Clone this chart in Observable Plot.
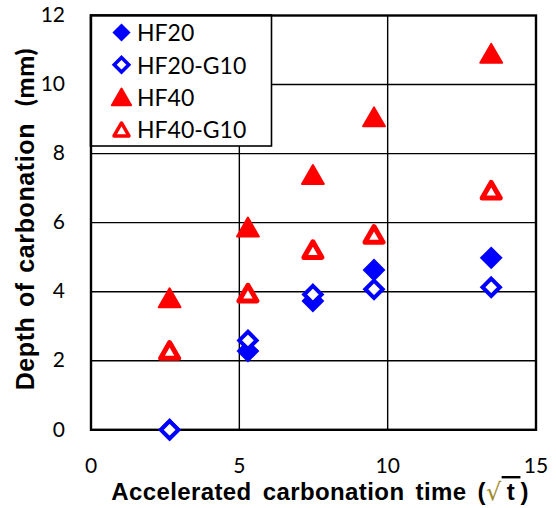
<!DOCTYPE html>
<html><head><meta charset="utf-8">
<script src="https://cdn.jsdelivr.net/npm/d3@7"></script>
<script src="https://cdn.jsdelivr.net/npm/@observablehq/plot@0.6"></script>
<style>body{margin:0;background:#fff;}</style>
</head><body><div id="chart"></div>
<script>
// sqrt of exposure days (7, 28, 56, 91, 182)
const times = [2.65, 5.29, 7.48, 9.54, 13.49];
const hf20 = [0, 2.28, 3.73, 4.63, 4.98];
const hf20g10 = [0, 2.59, 3.92, 4.07, 4.13];
const hf40 = [3.82, 5.87, 7.39, 9.06, 10.9];
const hf40g10 = [2.3, 3.96, 5.22, 5.66, 6.94];
const seriesNames = ["HF20", "HF20-G10", "HF40", "HF40-G10"];
const xTicks = [0, 5, 10, 15];
const yTicks = [0, 2, 4, 6, 8, 10, 12];
const xGrid = [5, 10];
const yGrid = [2, 4, 6, 8, 10];
const xTitle = "Accelerated carbonation time (";
const yTitle = "Depth of carbonation";
const yUnit = "  (mm)";

const rows = (vals, name) => times.map((t, i) => ({t, v: vals[i], name}));
const series = [hf20, hf20g10, hf40, hf40g10].map((v, i) => rows(v, seriesNames[i]));

const styles = [
  {symbol: "diamond2", r: 10.3, fill: "#0000ff", stroke: "none", strokeWidth: 0, dy: 0, lSym: d3.symbolDiamond2, lSize: 210},
  {symbol: "diamond2", r: 7.8, fill: "white", stroke: "#0000ff", strokeWidth: 4, dy: 0, lSym: d3.symbolDiamond2, lSize: 135},
  {symbol: "triangle", r: 8.1, fill: "#ff0000", stroke: "#ff0000", strokeWidth: 2, dy: 3, lSym: d3.symbolTriangle, lSize: 160},
  {symbol: "triangle2", r: 8.6, fill: "white", stroke: "#ff0000", strokeWidth: 5, dy: 2.6, lSym: d3.symbolTriangle2, lSize: 160}
];

function legendMark(index, scales, values, dims) {
  const g = d3.create("svg:g");
  const x0 = dims.marginLeft, y0 = dims.marginTop;
  g.append("rect").attr("x", x0).attr("y", y0).attr("width", 181).attr("height", 131)
    .attr("fill", "white").attr("stroke", "black").attr("stroke-width", 1.6);
  styles.forEach((s, i) => {
    const cy = y0 + 17.5 + i * 32.3;
    const sw = s.strokeWidth ? Math.min(s.strokeWidth, 3.5) : 0;
    g.append("path")
      .attr("transform", `translate(${x0 + 31},${cy + s.dy * 0.85})`)
      .attr("d", d3.symbol(s.lSym, s.lSize)())
      .attr("fill", s.fill).attr("stroke", s.stroke).attr("stroke-width", sw)
      .attr("stroke-linejoin", s.symbol.startsWith("triangle") ? "round" : "miter");
    g.append("text").attr("x", x0 + 46.5).attr("y", cy + 0.5).attr("dy", "0.36em")
      .attr("text-anchor", "start")
      .attr("font-family", "Lato").attr("font-size", 23).attr("fill", "black")
      .text(seriesNames[i]);
  });
  return g.node();
}

function titles(index, scales, values, dims) {
  const g = d3.create("svg:g").attr("font-family", "'Liberation Sans', Arial, sans-serif")
    .attr("font-weight", "bold").attr("font-size", 24).attr("fill", "black");
  const cx = dims.marginLeft + (dims.width - dims.marginLeft - dims.marginRight) / 2 + 7;
  const xt = g.append("text").attr("x", cx).attr("y", dims.height - 8)
    .attr("text-anchor", "middle").attr("letter-spacing", "0.4px").attr("word-spacing", "4px");
  xt.append("tspan").text(xTitle);
  xt.append("tspan").attr("fill", "#a08a2a").attr("font-family", "'DejaVu Sans'").attr("font-weight", "normal").text("√");
  xt.append("tspan").attr("text-decoration", "overline").text("\u2009t\u2009");
  xt.append("tspan").text(")");
  const cy = dims.marginTop + (dims.height - dims.marginTop - dims.marginBottom) / 2 - 3;
  const yt = g.append("text").attr("transform", `translate(${dims.marginLeft - 57},${cy}) rotate(-90)`)
    .attr("font-size", 25)
    .attr("text-anchor", "middle").attr("letter-spacing", "0.6px").attr("word-spacing", "2px");
  yt.append("tspan").text(yTitle);
  yt.append("tspan").attr("font-family", "Lato").attr("font-weight", "900").style("white-space", "pre").text(yUnit);
  return g.node();
}

const chart = Plot.plot({
  width: 556, height: 508,
  marginLeft: 90.5, marginRight: 20.5, marginTop: 15, marginBottom: 78.7,
  style: {fontFamily: "Lato", fontSize: "21px", color: "black", background: "white", overflow: "visible"},
  x: {domain: [0, 15]},
  y: {domain: [0, 12]},
  marks: [
    Plot.gridX(xGrid, {stroke: "black", strokeOpacity: 1, strokeWidth: 1.4}),
    Plot.gridY(yGrid, {stroke: "black", strokeOpacity: 1, strokeWidth: 1.4}),
    legendMark,
    Plot.frame({stroke: "black", strokeWidth: 2.4}),
    Plot.axisX(xTicks, {tickSize: 0, tickPadding: 28, fontSize: 21, label: null, fill: "black"}),
    Plot.axisY(yTicks, {tickSize: 0, tickPadding: 26, fontSize: 21, label: null, fill: "black"}),
    ...series.map((d, i) => Plot.dot(d, {
      x: "t", y: "v", symbol: styles[i].symbol, r: styles[i].r,
      fill: styles[i].fill, stroke: styles[i].stroke, strokeWidth: styles[i].strokeWidth,
      strokeLinejoin: styles[i].symbol.startsWith("triangle") ? "round" : "miter",
      dy: styles[i].dy
    })),
    titles
  ]
});
document.getElementById("chart").append(chart);
</script>
</body></html>
